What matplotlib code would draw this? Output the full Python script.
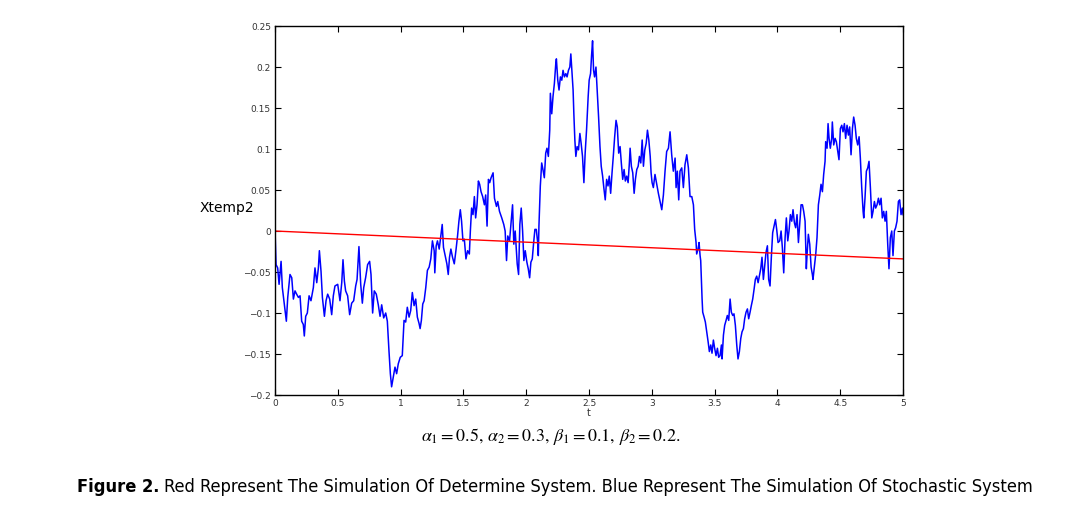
import numpy as np
import matplotlib
matplotlib.use("Agg")
import matplotlib.pyplot as plt

# stochastic path (t, Xtemp2) in pieces
seg_0_1 = [(0.000, 0.000), (0.008, -0.041), (0.021, -0.045), (0.032, -0.065), (0.048, -0.037),
           (0.058, -0.069), (0.074, -0.090), (0.090, -0.110), (0.101, -0.081), (0.119, -0.053),
           (0.133, -0.057), (0.146, -0.083), (0.159, -0.073), (0.172, -0.077), (0.186, -0.081),
           (0.199, -0.079), (0.212, -0.110), (0.225, -0.114), (0.233, -0.128), (0.244, -0.104),
           (0.257, -0.100), (0.271, -0.079), (0.286, -0.085), (0.305, -0.069), (0.318, -0.045),
           (0.332, -0.063), (0.345, -0.045), (0.353, -0.024), (0.366, -0.049), (0.377, -0.081),
           (0.393, -0.104), (0.406, -0.085), (0.419, -0.077), (0.435, -0.083), (0.451, -0.102),
           (0.464, -0.079), (0.477, -0.067), (0.499, -0.065), (0.517, -0.085), (0.531, -0.063),
           (0.541, -0.035), (0.552, -0.061), (0.562, -0.073), (0.578, -0.079), (0.594, -0.102),
           (0.610, -0.088), (0.626, -0.085), (0.642, -0.067), (0.653, -0.059), (0.668, -0.019),
           (0.682, -0.065), (0.695, -0.088), (0.706, -0.069), (0.721, -0.057), (0.737, -0.041),
           (0.753, -0.037), (0.764, -0.053), (0.777, -0.100), (0.790, -0.073), (0.806, -0.077),
           (0.822, -0.090), (0.836, -0.104), (0.849, -0.090), (0.865, -0.106), (0.881, -0.100),
           (0.894, -0.110), (0.907, -0.146), (0.918, -0.174), (0.928, -0.190), (0.944, -0.176),
           (0.955, -0.166), (0.968, -0.174), (0.981, -0.162), (0.997, -0.154), (1.013, -0.152)]

seg_1_2 = [(1.027, -0.109), (1.040, -0.111), (1.053, -0.093), (1.067, -0.105), (1.080, -0.097),
           (1.093, -0.075), (1.107, -0.091), (1.120, -0.083), (1.133, -0.105), (1.147, -0.113),
           (1.155, -0.119), (1.165, -0.109), (1.176, -0.089), (1.187, -0.085), (1.200, -0.069),
           (1.213, -0.048), (1.227, -0.044), (1.240, -0.034), (1.253, -0.012), (1.267, -0.024),
           (1.272, -0.051), (1.283, -0.018), (1.293, -0.012), (1.307, -0.022), (1.320, -0.006),
           (1.331, 0.008), (1.341, -0.020), (1.352, -0.028), (1.368, -0.040), (1.379, -0.053),
           (1.389, -0.032), (1.400, -0.022), (1.413, -0.032), (1.427, -0.040), (1.440, -0.024),
           (1.453, -0.006), (1.464, 0.012), (1.475, 0.026), (1.485, 0.012), (1.496, -0.012),
           (1.507, -0.010), (1.520, -0.034), (1.533, -0.024), (1.547, -0.028), (1.555, 0.000),
           (1.565, 0.028), (1.576, 0.020), (1.587, 0.042), (1.597, 0.016), (1.608, 0.032),
           (1.619, 0.061), (1.629, 0.057), (1.640, 0.048), (1.653, 0.042), (1.667, 0.032),
           (1.677, 0.044), (1.688, 0.006), (1.699, 0.063), (1.709, 0.059), (1.720, 0.065),
           (1.736, 0.071), (1.747, 0.040), (1.763, 0.030), (1.773, 0.036), (1.787, 0.024),
           (1.805, 0.016), (1.821, 0.008), (1.832, 0.000), (1.843, -0.036), (1.853, -0.006),
           (1.867, -0.012), (1.880, 0.012), (1.891, 0.032), (1.901, -0.016), (1.912, 0.000),
           (1.928, -0.040), (1.939, -0.053), (1.949, 0.008), (1.960, 0.028), (1.971, 0.000),
           (1.981, -0.036), (1.992, -0.024)]

seg_2_3 = [(2.005, -0.038), (2.016, -0.046), (2.027, -0.057), (2.037, -0.038), (2.048, -0.034),
           (2.059, -0.014), (2.069, 0.002), (2.080, 0.002), (2.091, -0.014), (2.096, -0.030),
           (2.101, 0.006), (2.112, 0.055), (2.123, 0.083), (2.133, 0.075), (2.144, 0.065),
           (2.155, 0.095), (2.165, 0.101), (2.176, 0.091), (2.187, 0.123), (2.192, 0.168),
           (2.203, 0.143), (2.213, 0.164), (2.224, 0.180), (2.235, 0.204), (2.240, 0.210),
           (2.251, 0.184), (2.261, 0.172), (2.272, 0.188), (2.283, 0.184), (2.293, 0.196),
           (2.304, 0.188), (2.315, 0.192), (2.325, 0.188), (2.336, 0.196), (2.347, 0.200),
           (2.355, 0.216), (2.363, 0.196), (2.373, 0.172), (2.379, 0.143), (2.387, 0.111),
           (2.395, 0.091), (2.405, 0.103), (2.416, 0.099), (2.427, 0.119), (2.437, 0.107),
           (2.448, 0.091), (2.459, 0.059), (2.469, 0.095), (2.480, 0.123), (2.493, 0.164),
           (2.501, 0.184), (2.512, 0.192), (2.520, 0.214), (2.528, 0.232), (2.536, 0.196),
           (2.544, 0.188), (2.555, 0.200), (2.565, 0.172), (2.576, 0.139), (2.587, 0.103),
           (2.597, 0.079), (2.608, 0.067), (2.619, 0.051), (2.629, 0.038), (2.640, 0.063),
           (2.651, 0.055), (2.661, 0.067), (2.672, 0.046), (2.683, 0.071), (2.693, 0.091),
           (2.704, 0.115), (2.715, 0.135), (2.725, 0.127), (2.736, 0.095), (2.747, 0.103),
           (2.757, 0.083), (2.768, 0.063), (2.779, 0.075), (2.789, 0.061), (2.800, 0.067),
           (2.811, 0.059), (2.821, 0.083), (2.827, 0.101), (2.837, 0.079), (2.848, 0.071),
           (2.859, 0.046), (2.869, 0.063), (2.880, 0.075), (2.891, 0.079), (2.901, 0.091),
           (2.912, 0.083), (2.923, 0.111), (2.933, 0.079), (2.944, 0.099), (2.955, 0.107),
           (2.965, 0.123), (2.976, 0.111), (2.987, 0.091)]

seg_3_4 = [(2.994, 0.071), (3.002, 0.059), (3.012, 0.053), (3.025, 0.069), (3.039, 0.057),
           (3.052, 0.046), (3.079, 0.026), (3.092, 0.044), (3.105, 0.073), (3.118, 0.097),
           (3.132, 0.101), (3.145, 0.121), (3.158, 0.093), (3.171, 0.073), (3.185, 0.089),
           (3.193, 0.053), (3.203, 0.073), (3.214, 0.038), (3.224, 0.073), (3.238, 0.077),
           (3.251, 0.053), (3.264, 0.081), (3.278, 0.093), (3.291, 0.077), (3.304, 0.042),
           (3.318, 0.042), (3.331, 0.032), (3.341, 0.002), (3.352, -0.014), (3.357, -0.028),
           (3.368, -0.022), (3.376, -0.014), (3.384, -0.030), (3.389, -0.036), (3.394, -0.059),
           (3.400, -0.083), (3.405, -0.099), (3.416, -0.105), (3.426, -0.111), (3.437, -0.123),
           (3.448, -0.135), (3.458, -0.147), (3.469, -0.139), (3.479, -0.149), (3.490, -0.133),
           (3.500, -0.143), (3.511, -0.152), (3.522, -0.143), (3.532, -0.154), (3.543, -0.152),
           (3.554, -0.139), (3.559, -0.156), (3.570, -0.127), (3.580, -0.115), (3.591, -0.109),
           (3.601, -0.103), (3.612, -0.109), (3.623, -0.083), (3.633, -0.099), (3.644, -0.103),
           (3.654, -0.101), (3.665, -0.115), (3.676, -0.139), (3.686, -0.156), (3.697, -0.147),
           (3.708, -0.131), (3.718, -0.123), (3.729, -0.119), (3.739, -0.107), (3.750, -0.099),
           (3.761, -0.095), (3.771, -0.107), (3.782, -0.099), (3.792, -0.091), (3.803, -0.083),
           (3.814, -0.071), (3.824, -0.059), (3.835, -0.055), (3.846, -0.063), (3.856, -0.055),
           (3.867, -0.046), (3.877, -0.032), (3.888, -0.059), (3.899, -0.042), (3.909, -0.026),
           (3.920, -0.018), (3.930, -0.059), (3.941, -0.067), (3.952, -0.030), (3.962, -0.002),
           (3.973, 0.006), (3.984, 0.014), (3.994, 0.002), (4.005, -0.014)]

seg_4_5 = [(4.018, -0.012), (4.029, 0.000), (4.039, -0.020), (4.050, -0.051), (4.061, -0.008),
           (4.071, 0.016), (4.082, -0.012), (4.092, 0.000), (4.103, 0.020), (4.114, 0.012),
           (4.124, 0.026), (4.135, 0.010), (4.145, 0.004), (4.156, 0.020), (4.167, -0.014),
           (4.177, 0.008), (4.188, 0.032), (4.199, 0.032), (4.209, 0.024), (4.220, 0.012),
           (4.230, -0.046), (4.236, -0.028), (4.246, -0.004), (4.257, -0.016), (4.268, -0.044),
           (4.278, -0.053), (4.283, -0.059), (4.294, -0.044), (4.305, -0.028), (4.315, -0.008),
           (4.326, 0.032), (4.337, 0.044), (4.347, 0.057), (4.358, 0.048), (4.368, 0.069),
           (4.379, 0.085), (4.384, 0.109), (4.395, 0.101), (4.403, 0.131), (4.411, 0.113),
           (4.421, 0.101), (4.432, 0.113), (4.437, 0.133), (4.448, 0.105), (4.459, 0.113),
           (4.469, 0.109), (4.480, 0.097), (4.490, 0.087), (4.501, 0.125), (4.512, 0.129),
           (4.522, 0.121), (4.533, 0.131), (4.543, 0.113), (4.554, 0.129), (4.565, 0.117),
           (4.575, 0.127), (4.586, 0.093), (4.597, 0.125), (4.607, 0.139), (4.618, 0.129),
           (4.628, 0.113), (4.639, 0.105), (4.650, 0.115), (4.660, 0.089), (4.671, 0.053),
           (4.682, 0.024), (4.687, 0.016), (4.697, 0.040), (4.708, 0.073), (4.719, 0.077),
           (4.729, 0.085), (4.740, 0.053), (4.751, 0.016), (4.761, 0.024), (4.772, 0.036),
           (4.782, 0.028), (4.793, 0.032), (4.804, 0.040), (4.814, 0.032), (4.825, 0.040),
           (4.835, 0.016), (4.846, 0.024), (4.857, 0.012), (4.867, 0.024), (4.878, -0.016),
           (4.888, -0.046), (4.899, -0.008), (4.910, 0.000), (4.920, -0.030), (4.931, 0.000),
           (4.941, 0.004), (4.952, 0.012), (4.963, 0.036), (4.973, 0.038), (4.984, 0.020),
           (4.995, 0.028), (5.000, 0.020)]

# deterministic solution
t_det = [0.0, 5.0]
x_det = [0.0, -0.034]

xticks = [0, 0.5, 1, 1.5, 2, 2.5, 3, 3.5, 4, 4.5, 5]
xtick_labels = ["0", "0.5", "1", "1.5", "2", "2.5", "3", "3.5", "4", "4.5", "5"]
yticks = [-0.2, -0.15, -0.1, -0.05, 0, 0.05, 0.1, 0.15, 0.2, 0.25]
ytick_labels = ["\u22120.2", "\u22120.15", "\u22120.1", "\u22120.05", "0",
                "0.05", "0.1", "0.15", "0.2", "0.25"]

caption_bold = "Figure 2."
caption_rest = ("Red Represent The Simulation Of Determine System. "
                "Blue Represent The Simulation Of Stochastic System")

path = np.array(seg_0_1 + seg_1_2 + seg_2_3 + seg_3_4 + seg_4_5)

plt.rcParams["mathtext.fontset"] = "stix"

fig = plt.figure(figsize=(10.85, 5.11), dpi=100)
ax = fig.add_axes([0.2535, 0.227, 0.5788, 0.722])
ax.plot(path[:, 0], path[:, 1], color="#0000ff", lw=1.1)
ax.plot(t_det, x_det, color="#ff0000", lw=1.0)

ax.set_xlim(0, 5)
ax.set_ylim(-0.2, 0.25)
ax.set_xticks(xticks)
ax.set_xticklabels(xtick_labels)
ax.set_yticks(yticks)
ax.set_yticklabels(ytick_labels)
ax.tick_params(direction="in", top=True, right=True, length=4, width=0.8,
               labelsize=6.5, labelcolor="#333333", pad=3)
for s in ax.spines.values():
    s.set_linewidth(1.0)

fig.text(200 / 1085, 0.593, "Xtemp2", fontsize=10, ha="left", va="center")
fig.text(589 / 1085, 0.192, "t", fontsize=7, ha="center", va="center", color="#333333")

fig.text(551 / 1085, 0.145,
         r"$\alpha_1 = 0.5,\, \alpha_2 = 0.3,\, \beta_1 = 0.1,\, \beta_2 = 0.2.$",
         fontsize=13, ha="center", va="center")

# caption: squeeze into the width it has in the original (x 77..1033 px)
cap_kw = dict(family="DejaVu Sans", fontstretch="condensed", ha="left", va="bottom")
t1 = fig.text(77 / 1085, 0.03, caption_bold, fontsize=13, fontweight="bold", **cap_kw)
t2 = ax.annotate(caption_rest, xy=(1, 0), xycoords=t1, xytext=(3, 0),
                 textcoords="offset points", fontsize=13, annotation_clip=False, **cap_kw)
fig.canvas.draw()
r = fig.canvas.get_renderer()
w = t2.get_window_extent(r).x1 - t1.get_window_extent(r).x0
size = 13 * (1033 - 77) / w
t1.set_fontsize(size)
t2.set_fontsize(size)

fig.savefig("out.png", dpi=100)
